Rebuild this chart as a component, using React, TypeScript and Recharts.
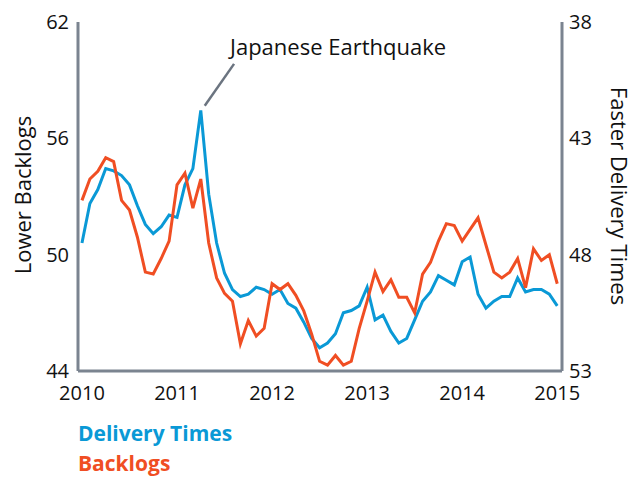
import React from "react";
import {
  LineChart,
  Line,
  XAxis,
  YAxis,
  ReferenceLine,
} from "recharts";

const BLUE = "#0a99d6";
const ORANGE = "#f04e23";
const GREY = "#7b8490";
const FONT = "'Open Sans', Roboto, sans-serif";

// monthly values, Jan 2010 .. Jan 2015
const backlogs = [
  52.8, 53.9, 54.3, 55.0, 54.8, 52.8, 52.3, 50.9, 49.1, 49.0,
  49.8, 50.7, 53.6, 54.2, 52.4, 53.9, 50.6, 48.8, 48.0, 47.6,
  45.4, 46.6, 45.8, 46.2, 48.5, 48.2, 48.5, 47.9, 47.1, 45.9,
  44.5, 44.3, 44.8, 44.3, 44.5, 46.2, 47.6, 49.1, 48.1, 48.7,
  47.8, 47.8, 47.0, 49.0, 49.6, 50.7, 51.6, 51.5, 50.7, 51.3,
  51.9, 50.5, 49.1, 48.8, 49.1, 49.8, 48.3, 50.3, 49.7, 50.0,
  48.5,
];

const deliveryTimes = [
  47.5, 45.8, 45.2, 44.3, 44.4, 44.6, 45.0, 45.9, 46.7, 47.1,
  46.8, 46.3, 46.4, 45.0, 44.3, 41.8, 45.4, 47.5, 48.8, 49.5,
  49.8, 49.7, 49.4, 49.5, 49.7, 49.5, 50.1, 50.3, 50.9, 51.6,
  52.0, 51.8, 51.4, 50.5, 50.4, 50.2, 49.4, 50.8, 50.6, 51.3,
  51.8, 51.6, 50.8, 50.0, 49.6, 48.9, 49.1, 49.3, 48.3, 48.1,
  49.7, 50.3, 50.0, 49.8, 49.8, 49.0, 49.6, 49.5, 49.5, 49.7,
  50.2,
];

const years = ["2010", "2011", "2012", "2013", "2014", "2015"];
const yearTicks = years.map((_, i) => i * 12);
const leftTicks = [44, 50, 56, 62];
const rightTicks = [38, 43, 48, 53];

const data = backlogs.map((b, i) => ({
  m: i,
  backlogs: b,
  delivery: deliveryTimes[i],
}));

const tickStyle = { fill: "#111", fontSize: 20, fontFamily: FONT };

export default function App() {
  return (
    <div
      style={{
        position: "absolute",
        left: 0,
        top: 0,
        width: 639,
        height: 477,
        background: "#fff",
        fontFamily: FONT,
      }}
    >
      <LineChart
        width={639}
        height={477}
        data={data}
        margin={{ top: 22, right: 0, bottom: 76, left: 0 }}
      >
        <XAxis
          dataKey="m"
          type="number"
          domain={[-0.5, 60.6]}
          ticks={yearTicks}
          tickFormatter={(v: number) => years[v / 12]}
          tickLine={false}
          tickSize={0}
          tickMargin={15}
          axisLine={{ stroke: GREY, strokeWidth: 3 }}
          tick={tickStyle}
          height={30}
          allowDataOverflow
        />
        <YAxis
          yAxisId="left"
          domain={[44, 62]}
          ticks={leftTicks}
          tickLine={false}
          tickSize={0}
          tickMargin={9}
          axisLine={{ stroke: GREY, strokeWidth: 3 }}
          tick={tickStyle}
          width={78}
        />
        <YAxis
          yAxisId="right"
          orientation="right"
          reversed
          domain={[38, 53]}
          ticks={rightTicks}
          tickLine={false}
          tickSize={0}
          tickMargin={7}
          axisLine={{ stroke: GREY, strokeWidth: 3 }}
          tick={tickStyle}
          width={77}
        />
        <ReferenceLine
          yAxisId="right"
          segment={[
            { x: 15.5, y: 41.6 },
            { x: 19.2, y: 39.8 },
          ]}
          stroke="#6b7480"
          strokeWidth={2.5}
        />
        <Line
          yAxisId="right"
          dataKey="delivery"
          stroke={BLUE}
          strokeWidth={3}
          dot={false}
          isAnimationActive={false}
        />
        <Line
          yAxisId="left"
          dataKey="backlogs"
          stroke={ORANGE}
          strokeWidth={3}
          dot={false}
          isAnimationActive={false}
        />
      </LineChart>

      {/* annotation + axis titles */}
      <div
        style={{
          position: "absolute",
          left: 230,
          top: 33,
          fontSize: 22,
          lineHeight: "26px",
          color: "#111",
          whiteSpace: "nowrap",
        }}
      >
        Japanese Earthquake
      </div>
      <div
        style={{
          position: "absolute",
          left: 22,
          top: 195,
          fontSize: 22,
          color: "#111",
          whiteSpace: "nowrap",
          transform: "translate(-50%, -50%) rotate(-90deg)",
        }}
      >
        Lower Backlogs
      </div>
      <div
        style={{
          position: "absolute",
          left: 620,
          top: 196,
          fontSize: 22,
          color: "#111",
          whiteSpace: "nowrap",
          transform: "translate(-50%, -50%) rotate(90deg)",
        }}
      >
        Faster Delivery Times
      </div>

      {/* legend */}
      <div
        style={{
          position: "absolute",
          left: 78,
          top: 418,
          fontSize: 21,
          fontWeight: 700,
          lineHeight: "30px",
        }}
      >
        <div style={{ color: BLUE }}>Delivery Times</div>
        <div style={{ color: ORANGE }}>Backlogs</div>
      </div>
    </div>
  );
}
